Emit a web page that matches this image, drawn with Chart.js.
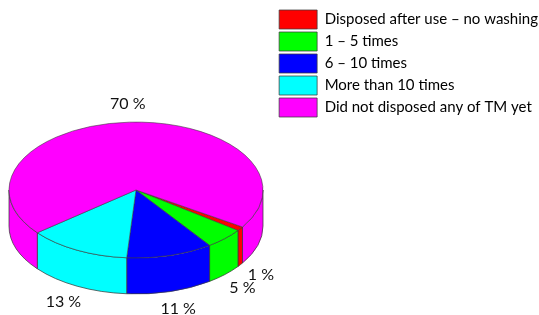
<!DOCTYPE html>
<html>
<head>
<meta charset="utf-8">
<script src="https://cdn.jsdelivr.net/npm/chart.js@4.4.0/dist/chart.umd.min.js"></script>
<style>
  html, body { margin: 0; padding: 0; background: #fff; }
  #wrap { position: relative; width: 539px; height: 315px; }
</style>
</head>
<body>
<div id="wrap"><canvas id="pieChart"></canvas></div>
<script>
const categories = ['Disposed after use – no washing', '1 – 5 times', '6 – 10 times', 'More than 10 times', 'Did not disposed any of TM yet'];
const shares = [1, 5, 11, 13, 70];
const sliceColors = ['#ff0000', '#00ff00', '#0000ff', '#00ffff', '#ff00ff'];

// fake 3D: where the flattened pie sits, how flat it is, how thick the wall is
const view = { cx: 136, cy: 190, tilt: 0.535, depth: 36 };
const edgeColor = '#3c3c3c';

const ctx = document.getElementById('pieChart').getContext('2d');

const pie3d = {
    id: 'pie3d',
    beforeDatasetsDraw(chart) {
        const arcs = chart.getDatasetMeta(0).data;
        const c = chart.ctx;
        const R = arcs[0].outerRadius;
        const ry = R * view.tilt;
        // front wall, only the part facing us (0..PI)
        arcs.forEach((arc, i) => {
            const s = arc.startAngle, e = arc.endAngle;
            for (let k = -1; k <= 2; k++) {
                const a = Math.max(s, 2 * Math.PI * k);
                const b = Math.min(e, 2 * Math.PI * k + Math.PI);
                if (b <= a) continue;
                c.save();
                c.beginPath();
                c.ellipse(view.cx, view.cy, R, ry, 0, a, b);
                c.ellipse(view.cx, view.cy + view.depth, R, ry, 0, b, a, true);
                c.closePath();
                c.fillStyle = sliceColors[i];
                c.fill();
                c.lineWidth = 0.75;
                c.strokeStyle = edgeColor;
                c.stroke();
                c.restore();
            }
        });
        // squash the top face
        c.save();
        c.translate(view.cx, view.cy);
        c.scale(1, view.tilt);
        c.translate(-arcs[0].x, -arcs[0].y);
    },
    afterDatasetsDraw(chart) {
        const c = chart.ctx;
        c.restore();
        const arcs = chart.getDatasetMeta(0).data;
        const R = arcs[0].outerRadius;
        const ry = R * view.tilt;
        const offX = 12, offY = 10;
        c.save();
        c.font = '16px Lato';
        c.fillStyle = '#111';
        c.textAlign = 'center';
        c.textBaseline = 'middle';
        arcs.forEach((arc, i) => {
            const mid = (arc.startAngle + arc.endAngle) / 2;
            const cos = Math.cos(mid), sin = Math.sin(mid);
            const txt = shares[i] + ' %';
            const w = c.measureText(txt).width, h = 16;
            const x = view.cx + (R + offX) * cos + cos * w / 2;
            const y = view.cy + (ry + offY) * sin + (sin > 0 ? view.depth : 0) + sin * h / 2;
            c.fillText(txt, x, y);
        });
        c.restore();
    }
};

new Chart(ctx, {
    type: 'pie',
    data: {
        labels: categories,
        datasets: [{
            data: shares,
            backgroundColor: sliceColors,
            borderColor: edgeColor,
            borderWidth: 0.75,
            radius: 127,
            clip: false
        }]
    },
    options: {
        responsive: true,
        maintainAspectRatio: false,
        animation: false,
        rotation: 123,
        layout: { padding: { top: 7, right: -9 } },
        plugins: {
            legend: {
                display: true,
                position: 'right',
                align: 'start',
                labels: {
                    boxWidth: 38,
                    boxHeight: 19,
                    padding: 3,
                    color: '#000',
                    font: { family: 'Lato', size: 15 }
                }
            },
            tooltip: { enabled: false }
        }
    },
    plugins: [pie3d]
});
</script>
</body>
</html>
